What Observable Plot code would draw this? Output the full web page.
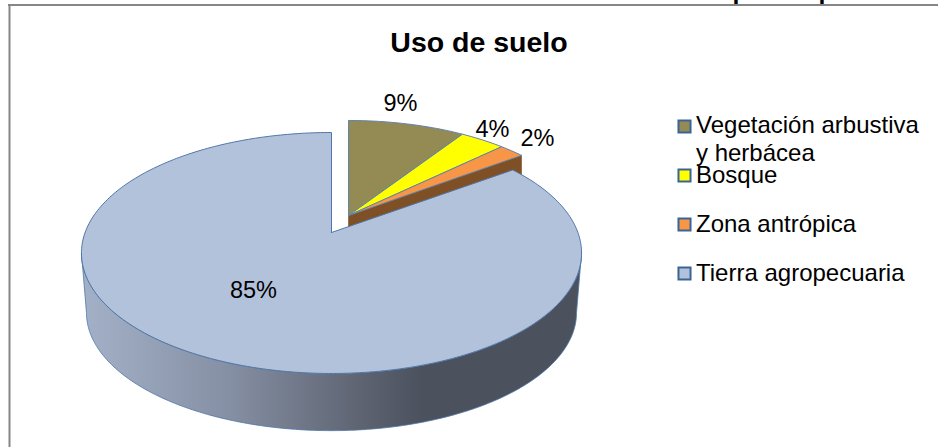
<!DOCTYPE html>
<html>
<head>
<meta charset="utf-8">
<style>html,body{margin:0;padding:0;background:#fff}svg{display:block}</style>
<script src="https://cdn.jsdelivr.net/npm/d3@7"></script>
<script src="https://cdn.jsdelivr.net/npm/@observablehq/plot@0.6"></script>
</head>
<body>
<div id="chart"></div>
<script>
// Data
const categories = ["Vegetación arbustiva\ny herbácea", "Bosque", "Zona antrópica", "Tierra agropecuaria"];
const values = [9.4, 3.6, 2, 85];
const colors = ["#948a54", "#ffff00", "#f79646", "#b3c2db"];
const titleText = "Uso de suelo";

// Layout only
const W = 938, H = 447, FS = 23.5;
const labelPos = [[400, 103], [492, 129], [537, 138], [253, 290]];
const legendY = [126, 175, 224, 273];
const legendTextY = [124, 174, 223, 272];
const detached = {cx: 348, cy: 215, A: 240, B: 114.8, k: 0.208};
const mainPie = {cx: 331, cy: 232, A: 246.4, B: 117, k: 0.17};
const wall = {drop: 60, scale: 0.98};

const rim = (g, t) => {
  const u = Math.sin(t), v = -Math.cos(t), w = 1 - g.k * v;
  return [g.A * u / w, g.B * v / w];
};
const rad = d => d * Math.PI / 180;

const arcs = d3.pie().sort(null).value(d => d)(values);
const sliceRows = [], brownRows = [];
arcs.forEach((a, i) => {
  const g = i === 3 ? mainPie : detached;
  const n = Math.max(2, Math.ceil((a.endAngle - a.startAngle) / rad(1)));
  const row = (x, y) => ({slice: categories[i], x, y});
  sliceRows.push(row(g.cx, g.cy));
  for (let j = 0; j <= n; ++j) {
    const [dx, dy] = rim(g, a.startAngle + (a.endAngle - a.startAngle) * j / n);
    sliceRows.push(row(g.cx + dx, g.cy + dy));
  }
  sliceRows.push(row(g.cx, g.cy));
});

// cut face of the detached group, mostly hidden behind the large slice
const cutAngle = arcs[2].endAngle;
const [cdx, cdy] = rim(detached, cutAngle);
brownRows.push(
  {x: detached.cx, y: detached.cy},
  {x: detached.cx + cdx, y: detached.cy + cdy},
  {x: detached.cx + cdx, y: detached.cy + cdy + wall.drop},
  {x: detached.cx, y: detached.cy + wall.drop},
  {x: detached.cx, y: detached.cy}
);

// outer wall of the large slice
const wallRows = [];
const t0 = Math.acos(-mainPie.k), t1 = 2 * Math.PI - t0;
const N = 180;
for (let j = 0; j <= N; ++j) {
  const [dx, dy] = rim(mainPie, t0 + (t1 - t0) * j / N);
  wallRows.push({x: mainPie.cx + dx, y: mainPie.cy + dy});
}
for (let j = N; j >= 0; --j) {
  const [dx, dy] = rim(mainPie, t0 + (t1 - t0) * j / N);
  wallRows.push({x: mainPie.cx + wall.scale * dx, y: mainPie.cy + wall.drop + wall.scale * dy});
}
wallRows.push(wallRows[0]);

const slicesBack = sliceRows.filter(d => d.slice !== categories[3]);
const sliceFront = sliceRows.filter(d => d.slice === categories[3]);
const labelRows = values.map((v, i) => ({t: Math.round(v) + "%", x: labelPos[i][0], y: labelPos[i][1]}));
const legendRows = categories.map((c, i) => ({c, y: legendY[i], ty: legendTextY[i]}));

const chart = Plot.plot({
  width: W, height: H, margin: 0,
  x: {domain: [0, W], range: [0, W], axis: null},
  y: {domain: [0, H], range: [0, H], axis: null},
  color: {domain: categories, range: colors},
  style: {background: "#fff", fontFamily: "'Liberation Sans', Arial, sans-serif", color: "#000"},
  marks: [
    Plot.text(["p", "p"], {x: [739, 825], y: [-8, -8], text: d => d, fontFamily: "'Liberation Serif', serif", fontWeight: "bold", fontSize: 24, fill: "#000"}),
    Plot.ruleY([4.5], {x1: 8, x2: W, stroke: "#868686", strokeWidth: 2}),
    Plot.ruleX([9], {y1: 4, y2: H, stroke: "#868686", strokeWidth: 2}),
    Plot.line(brownRows, {x: "x", y: "y", fill: "#7f5025", stroke: "#7f5025", strokeWidth: 0.6}),
    Plot.line(slicesBack, {x: "x", y: "y", z: "slice", fill: "slice", stroke: "#5f84ad", strokeWidth: 1}),
    Plot.line(wallRows, {x: "x", y: "y", fill: "url(#wallShade)", stroke: "#4f77a8", strokeWidth: 0.8}),
    Plot.line(sliceFront, {x: "x", y: "y", z: "slice", fill: "slice", stroke: "#4f77a8", strokeWidth: 1}),
    Plot.text(labelRows, {x: "x", y: "y", text: "t", fontSize: FS, fill: "#000"}),
    Plot.text([titleText], {x: [478.5], y: [42], text: d => d, fontSize: 28.5, fontWeight: "bold", fill: "#000"}),
    Plot.dot(legendRows, {x: () => 684, y: "y", symbol: "square", r: 6.8, fill: "c", stroke: "#3a6496", strokeWidth: 2}),
    Plot.text(legendRows, {x: () => 695.5, y: "ty", text: "c", textAnchor: "start", lineAnchor: "top", dy: -11, lineHeight: 1.16, fontSize: 24, fill: "#000"})
  ]
});

const defs = d3.select(chart).insert("defs", ":first-child");
const grad = defs.append("linearGradient").attr("id", "wallShade");
[[0, "#a3b1c8"], [0.3, "#858fa3"], [0.55, "#5f6573"], [0.68, "#4b525e"], [1, "#4b525e"]]
  .forEach(([o, c]) => grad.append("stop").attr("offset", o).attr("stop-color", c));

document.getElementById("chart").appendChild(chart);
</script>
</body>
</html>
